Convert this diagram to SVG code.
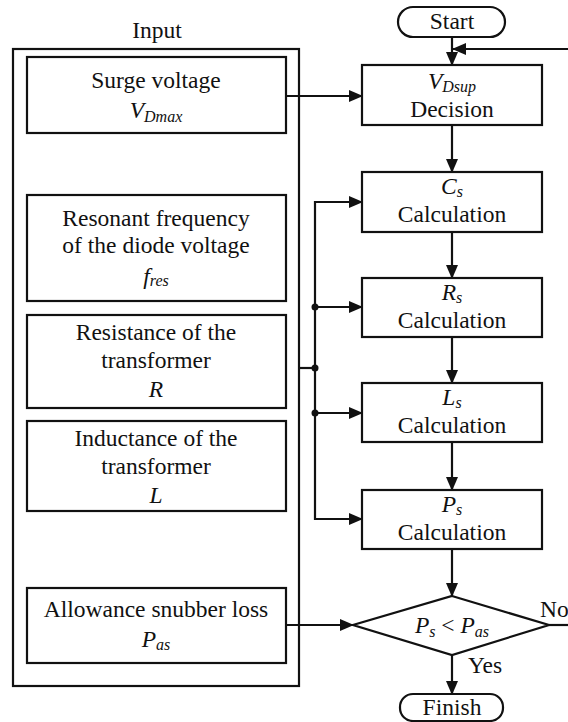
<svg xmlns="http://www.w3.org/2000/svg" width="568" height="722" viewBox="0 0 568 722">
<defs>
<style>
text{font-family:'Times New Roman',Times,Tinos,'Liberation Serif','DejaVu Serif','Noto Serif',serif;font-size:23.5px;fill:#111;text-anchor:middle}
.i{font-style:italic}
.s{font-style:italic;font-size:16px}
.b{fill:#fff;stroke:#111;stroke-width:2.2}
.c{fill:none;stroke:#111;stroke-width:2.2}
</style>
<marker id="a" markerUnits="userSpaceOnUse" markerWidth="14" markerHeight="12" refX="13" refY="6" orient="auto">
<path d="M0,0 L14,6 L0,12 Z" fill="#111"/>
</marker>
</defs>
<rect width="568" height="722" fill="#fff"/>
<g id="input">
<text x="157" y="38">Input</text>
<rect class="b" x="13" y="49" width="286" height="637" fill="none"/>
</g>
<g id="surge">
<rect class="b" x="27" y="57" width="259" height="76"/>
<text x="156" y="88">Surge voltage</text>
<text x="156" y="118"><tspan class="i">V</tspan><tspan class="s" dy="4">Dmax</tspan></text>
</g>
<g id="fres">
<rect class="b" x="27" y="195" width="259" height="106"/>
<text x="156" y="226">Resonant frequency</text>
<text x="156" y="253">of the diode voltage</text>
<text x="156" y="284"><tspan class="i">f</tspan><tspan class="s" dy="2">res</tspan></text>
</g>
<g id="res">
<rect class="b" x="27" y="315" width="259" height="93"/>
<text x="156" y="340">Resistance of the</text>
<text x="156" y="368">transformer</text>
<text x="156" y="397" class="i">R</text>
</g>
<g id="ind">
<rect class="b" x="27" y="421" width="259" height="90"/>
<text x="156" y="446">Inductance of the</text>
<text x="156" y="474">transformer</text>
<text x="156" y="503" class="i">L</text>
</g>
<g id="allow">
<rect class="b" x="27" y="588" width="259" height="75"/>
<text x="156" y="617">Allowance snubber loss</text>
<text x="156" y="647"><tspan class="i">P</tspan><tspan class="s" dy="3">as</tspan></text>
</g>
<g id="connectors">
<path class="c" d="M452,37 V65" marker-end="url(#a)"/>
<path class="c" d="M568,49 H453" marker-end="url(#a)"/>
<path class="c" d="M286,96 H362" marker-end="url(#a)"/>
<path class="c" d="M452,125 V172" marker-end="url(#a)"/>
<path class="c" d="M452,232 V278" marker-end="url(#a)"/>
<path class="c" d="M452,337 V383" marker-end="url(#a)"/>
<path class="c" d="M452,442 V490" marker-end="url(#a)"/>
<path class="c" d="M452,549 V596" marker-end="url(#a)"/>
<path class="c" d="M452,655 V694" marker-end="url(#a)"/>
<path class="c" d="M549,625 H568"/>
<path class="c" d="M286,625 H353" marker-end="url(#a)"/>
<path class="c" d="M299,368 H315"/>
<path class="c" d="M362,202 H315 V519 H362" marker-end="url(#a)"/>
<path class="c" d="M315,202 H362" marker-end="url(#a)"/>
<path class="c" d="M315,307 H362" marker-end="url(#a)"/>
<path class="c" d="M315,413 H362" marker-end="url(#a)"/>
<circle cx="315" cy="307" r="3.5" fill="#111"/>
<circle cx="315" cy="368" r="3.5" fill="#111"/>
<circle cx="315" cy="413" r="3.5" fill="#111"/>
</g>
<g id="start">
<rect class="b" x="398" y="7" width="107" height="30" rx="15"/>
<text x="452" y="29">Start</text>
</g>
<g id="vdsup">
<rect class="b" x="362" y="65" width="180" height="60"/>
<text x="452" y="89"><tspan class="i">V</tspan><tspan class="s" dy="3">Dsup</tspan></text>
<text x="452" y="117">Decision</text>
</g>
<g id="cs">
<rect class="b" x="362" y="172" width="180" height="60"/>
<text x="452" y="194"><tspan class="i">C</tspan><tspan class="s" dy="3">s</tspan></text>
<text x="452" y="222">Calculation</text>
</g>
<g id="rs">
<rect class="b" x="362" y="278" width="180" height="59"/>
<text x="452" y="300"><tspan class="i">R</tspan><tspan class="s" dy="3">s</tspan></text>
<text x="452" y="328">Calculation</text>
</g>
<g id="ls">
<rect class="b" x="362" y="383" width="180" height="59"/>
<text x="452" y="405"><tspan class="i">L</tspan><tspan class="s" dy="3">s</tspan></text>
<text x="452" y="433">Calculation</text>
</g>
<g id="ps">
<rect class="b" x="362" y="490" width="180" height="59"/>
<text x="452" y="512"><tspan class="i">P</tspan><tspan class="s" dy="3">s</tspan></text>
<text x="452" y="540">Calculation</text>
</g>
<g id="decision">
<path class="b" d="M452,596 L549,625 L452,655 L353,625 Z"/>
<text x="452" y="633"><tspan class="i">P</tspan><tspan class="s" dy="4">s</tspan><tspan dy="-4"> &lt; </tspan><tspan class="i">P</tspan><tspan class="s" dy="4">as</tspan></text>
<text x="540" y="617" style="text-anchor:start">No</text>
<text x="468" y="673" style="text-anchor:start">Yes</text>
</g>
<g id="finish">
<rect class="b" x="400" y="694" width="103" height="27" rx="13"/>
<text x="452" y="715">Finish</text>
</g>
</svg>
